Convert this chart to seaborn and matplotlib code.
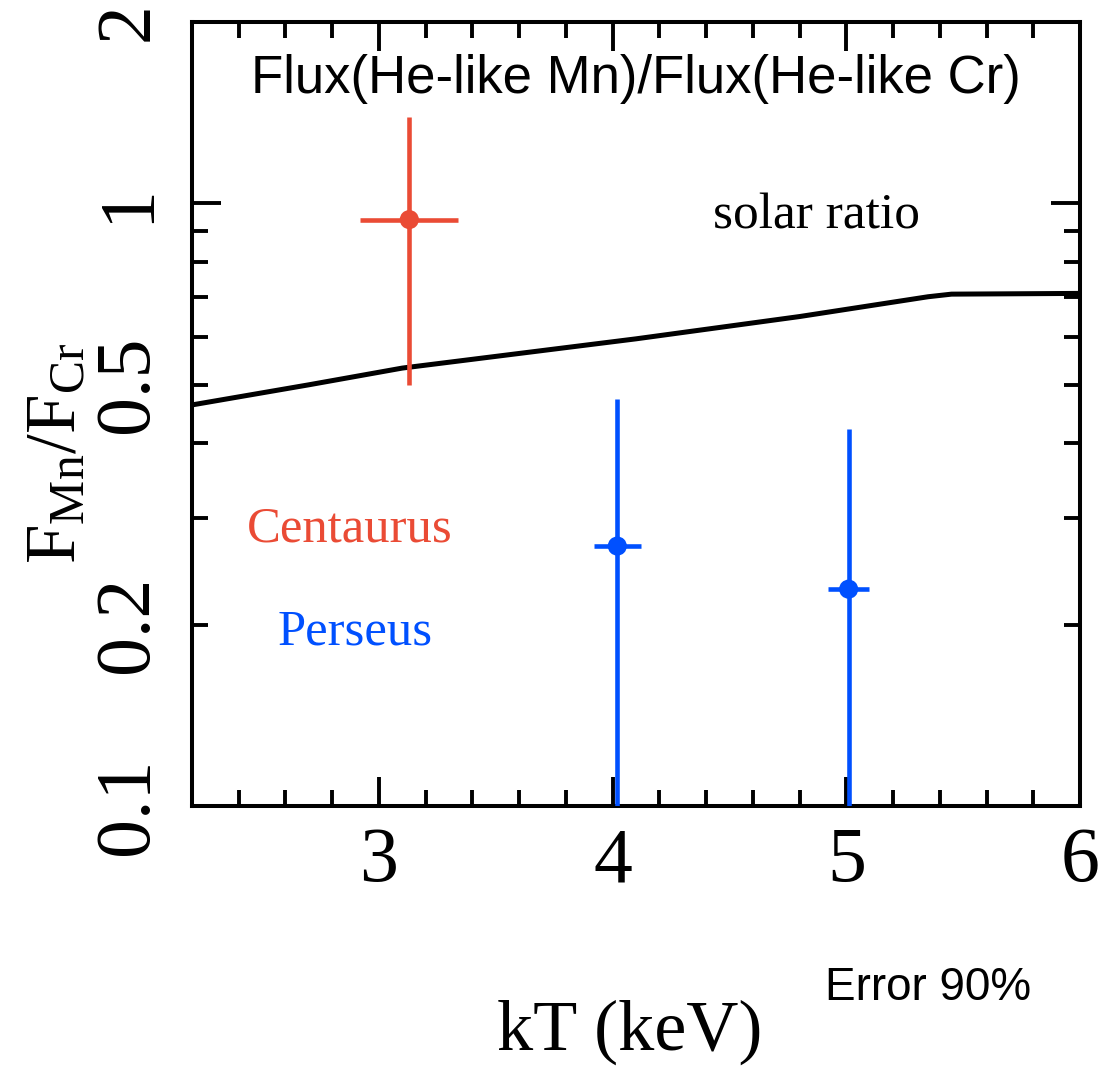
import numpy as np
import matplotlib
matplotlib.use("Agg")
import matplotlib.pyplot as plt
from matplotlib.ticker import FixedLocator, FuncFormatter, MultipleLocator
import seaborn as sns

# Solar Mn/Cr He-like flux ratio as a function of plasma temperature
solar_kT = [2.2, 2.7, 3.1, 4.1, 4.8, 5.35, 5.45, 6.0]
solar_ratio = [0.463, 0.500, 0.533, 0.596, 0.649, 0.700, 0.707, 0.709]

# Centaurus measurement (90% errors)
cen_kT = [3.13]
cen_kT_err = [0.21]
cen_ratio = [0.94]
cen_lo = [0.50]
cen_hi = [1.39]

# Perseus measurements (90% errors, lower bounds run off the plot)
per_kT = [4.02, 5.01]
per_kT_err = [0.10, 0.087]
per_ratio = [0.270, 0.229]
per_lo = [0.05, 0.05]
per_hi = [0.473, 0.422]

y_major = [0.1, 1]
y_minor = [0.2, 0.3, 0.4, 0.5, 0.6, 0.7, 0.8, 0.9, 2]
y_labels = {0.1: "0.1", 0.2: "0.2", 0.5: "0.5", 1.0: "1", 2.0: "2"}
x_major = [3, 4, 5, 6]

RED = "#EA4B35"
BLUE = "#0050FF"

sns.set_style("ticks")
plt.rcParams["font.family"] = ["Liberation Serif", "DejaVu Serif"]
plt.rcParams["mathtext.fontset"] = "custom"
plt.rcParams["mathtext.rm"] = "Liberation Serif"
plt.rcParams["mathtext.it"] = "Liberation Serif:italic"

W, H = 1112, 1067
fig = plt.figure(figsize=(W / 100, H / 100), dpi=100)
L, R, T, B = 192, 1080, 22, 806
ax = fig.add_axes([L / W, 1 - B / H, (R - L) / W, (B - T) / H])

ax.set_yscale("log")

# solar ratio curve
sns.lineplot(x=solar_kT, y=solar_ratio, color="black", lw=3.6, ax=ax,
             estimator=None, sort=False, zorder=2)

def draw_points(kT, kT_err, ratio, lo, hi, color):
    ratio = np.asarray(ratio)
    yerr = np.vstack([ratio - np.asarray(lo), np.asarray(hi) - ratio])
    ax.errorbar(kT, ratio, xerr=kT_err, yerr=yerr, fmt="none",
                ecolor=color, elinewidth=3.3, capsize=0, zorder=3)
    sns.scatterplot(x=kT, y=ratio, color=color, s=190, edgecolor="none",
                    ax=ax, zorder=4, legend=False)

draw_points(cen_kT, cen_kT_err, cen_ratio, cen_lo, cen_hi, RED)
draw_points(per_kT, per_kT_err, per_ratio, per_lo, per_hi, BLUE)

ax.set_xlim(2.2, 6)
ax.set_ylim(0.1, 2)

ax.xaxis.set_major_locator(FixedLocator(x_major))
ax.xaxis.set_minor_locator(MultipleLocator(0.2))
ax.xaxis.set_major_formatter(FuncFormatter(lambda v, p: f"{v:g}"))

ax.yaxis.set_major_locator(FixedLocator(y_major))
ax.yaxis.set_minor_locator(FixedLocator(y_minor))
fmt = FuncFormatter(lambda v, p: y_labels.get(round(v, 2), ""))
ax.yaxis.set_major_formatter(fmt)
ax.yaxis.set_minor_formatter(fmt)

for s in ax.spines.values():
    s.set_linewidth(2.9)
    s.set_color("black")

ax.tick_params(which="both", direction="in", top=True, right=True,
               width=2.8, color="black", labelsize=56, labelcolor="black")
ax.tick_params(which="major", length=21)
ax.tick_params(which="minor", length=11.5)
ax.tick_params(axis="x", which="both", pad=15)
ax.tick_params(axis="y", which="both", pad=20, labelrotation=90)

for t in ax.yaxis.get_major_ticks() + ax.yaxis.get_minor_ticks():
    t.label1.set_verticalalignment("center")

ax.set_xlabel("")
ax.set_ylabel("")

# annotations
ax.text(0.5, 0.909, "Flux(He-like Mn)/Flux(He-like Cr)", transform=ax.transAxes,
        ha="center", va="baseline", family=["Liberation Sans", "DejaVu Sans"],
        size=38, color="black")
ax.text(0.703, 0.737, "solar ratio", transform=ax.transAxes,
        ha="center", va="baseline", size=37, color="black")
ax.text(0.1774, 0.338, "Centaurus", transform=ax.transAxes,
        ha="center", va="baseline", size=36.5, color=RED)
ax.text(0.1836, 0.2054, "Perseus", transform=ax.transAxes,
        ha="center", va="baseline", size=36.5, color=BLUE)

fig.text(630 / W, 1 - 1050 / H, "kT (keV)", ha="center", va="baseline",
         size=52, color="black")
fig.text(58 / W, 1 - 453 / H, r"$\mathregular{F_{Mn}/F_{Cr}}$", rotation=90,
         ha="center", va="center", size=51, color="black")
fig.text(928 / W, 1 - 1000 / H, "Error 90%", ha="center", va="baseline",
         family=["Liberation Sans", "DejaVu Sans"], size=33, color="black")

fig.savefig("out.png", dpi=100)
